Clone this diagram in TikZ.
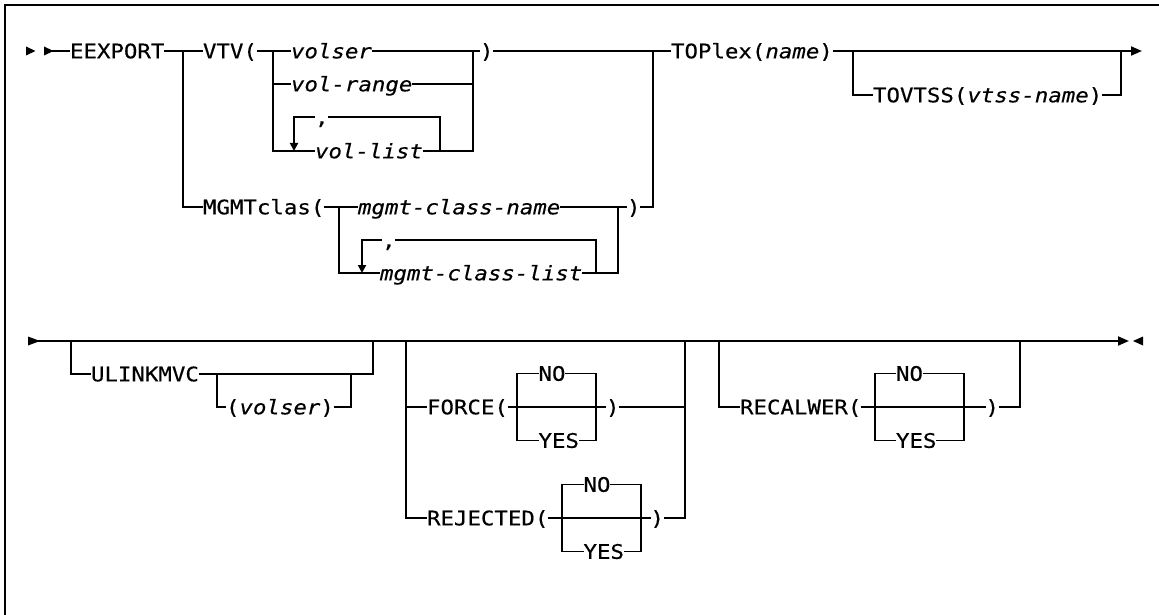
\documentclass[tikz,border=0pt]{standalone}
\usepackage{fontspec}
\newfontfamily\railfont[FakeStretch=1.12,FakeBold=0.4]{DejaVu Sans Mono}
\usetikzlibrary{arrows.meta}
\tikzset{
  kw/.style={inner sep=0pt, outer sep=0pt, anchor=west, text height=14.6pt, text depth=0pt},
  var/.style={kw, font=\railfont\fontsize{20}{24}\selectfont\itshape},
  endtip/.style={-{Triangle[length=11pt,width=9pt]}},
  looptip/.style={-{Triangle[length=8pt,width=8pt]}},
}
\begin{document}
\begin{tikzpicture}[x=1pt, y=-1pt, line width=1.9pt, every node/.style={font=\railfont\fontsize{20}{24}\selectfont}]
  \useasboundingbox (0,0) rectangle (1159,615);
  \draw[line width=2pt] (4.5,615) -- (4.5,5) -- (1160,5);

  % first line
  \fill (26,46.5) -- (35.5,51) -- (26,55.5) -- cycle;
  \fill (44,46.5) -- (53.5,51) -- (44,55.5) -- cycle;
  \coordinate (go1) at (44,51);
  \coordinate (end1) at (1142,51);
  \node[kw] (eexport) at (70,51) {EEXPORT};
  \node[kw] (vtv) at (203,51) {VTV(};
  \node[var] (volser) at (291,51) {volser};
  \node[var] (volrange) at (291,84) {vol-range};
  \node[kw] (comma1) at (315,117) {,};
  \node[var] (vollist) at (315,151) {vol-list};
  \node[kw] (rpvtv) at (480,51) {)};
  \node[kw] (mgmt) at (203,207) {MGMTclas(};
  \node[var] (mcname) at (358,207) {mgmt-class-name};
  \node[kw] (comma2) at (382,240) {,};
  \node[var] (mclist) at (380,273) {mgmt-class-list};
  \node[kw] (rpmgmt) at (627,207) {)};
  \node[kw] (toplex) at (671,51) {TOPlex(\textit{name})};
  \node[kw] (tovtss) at (873,95) {TOVTSS(\textit{vtss-name})};

  \draw (go1) -- (eexport.west);
  \draw (eexport.east) -- (vtv.west);
  \draw (vtv.east) -- (volser.west);
  \draw (volser.east) -- (rpvtv.west);
  \draw (rpvtv.east) -- (toplex.west);
  \draw[endtip] (toplex.east) -- (end1);

  \coordinate (vtvin) at (273,51);
  \coordinate (vtvout) at (473,51);
  \draw (vtvin) |- (volrange.west);
  \draw (vtvin) |- (vollist.west);
  \draw (volrange.east) -| (vtvout);
  \draw (vollist.east) -| (vtvout);
  \coordinate (rep1a) at (294,117);
  \coordinate (rep1b) at (440,117);
  \draw[looptip] (comma1.west) -- (rep1a) -- (rep1a |- vollist.west);
  \draw (comma1.east) -- (rep1b) -- (rep1b |- vollist.east);

  \coordinate (vtvsplit) at (183,51);
  \coordinate (topin) at (653,51);
  \draw (vtvsplit) |- (mgmt.west);
  \draw (mgmt.east) -- (mcname.west);
  \draw (mcname.east) -- (rpmgmt.west);
  \draw (rpmgmt.east) -| (topin);
  \coordinate (mgin) at (339,207);
  \coordinate (mgout) at (618,207);
  \draw (mgin) |- (mclist.west);
  \draw (mclist.east) -| (mgout);
  \coordinate (rep2a) at (362,240);
  \coordinate (rep2b) at (596,240);
  \draw[looptip] (comma2.west) -- (rep2a) -- (rep2a |- mclist.west);
  \draw (comma2.east) -- (rep2b) -- (rep2b |- mclist.east);

  \coordinate (tvin) at (853,51);
  \coordinate (tvout) at (1121,51);
  \draw (tvin) |- (tovtss.west);
  \draw (tovtss.east) -| (tvout);

  % second line
  \fill (28,336.5) -- (40,341) -- (28,345.5) -- cycle;
  \fill (1143,336.5) -- (1133,341) -- (1143,345.5) -- cycle;
  \coordinate (go2) at (28,341);
  \coordinate (end2) at (1129,341);
  \draw[endtip] (go2) -- (end2);

  \node[kw] (ulink) at (91,374) {ULINKMVC};
  \node[kw] (ulvol) at (226,407) {(\textit{volser})};
  \coordinate (ulin) at (71,341);
  \coordinate (ulout) at (373,341);
  \draw (ulin) |- (ulink.west);
  \draw (ulink.east) -| (ulout);
  \coordinate (uvin) at (217,374);
  \coordinate (uvout) at (351,374);
  \draw (uvin) |- (ulvol.west);
  \draw (ulvol.east) -| (uvout);

  \foreach \id/\word/\x/\y/\bl/\br/\nx/\px in {force/FORCE(/427/407/517/596/538.5/606,rej/REJECTED(/427/518/562/641/583.5/650.5,recal/RECALWER(/740/407/875/964/896/985.5} {
    \node[kw] (\id) at (\x,\y) {\word};
    \node[kw] (\id-no) at (\nx,\y-33.5) {NO};
    \node[kw] (\id-yes) at (\nx,\y+33.5) {YES};
    \node[kw] (\id-rp) at (\px,\y) {)};
    \draw (\id.east) -- (\id-rp.west);
    \draw (\id-no.west) -- (\bl,\y-33.5) -- (\bl,\y+33.5) -- (\id-yes.west);
    \draw (\id-no.east) -- (\br,\y-33.5) -- (\br,\y+33.5) -- (\id-yes.east);
  }

  \coordinate (fin) at (406,341);
  \coordinate (fout) at (685,341);
  \draw (fin) |- (rej.west);
  \draw (fin |- force.west) -- (force.west);
  \draw (rej-rp.east) -| (fout);
  \draw (force-rp.east) -- (force-rp.east -| fout);
  \coordinate (win) at (719,341);
  \coordinate (wout) at (1020,341);
  \draw (win) |- (recal.west);
  \draw (recal-rp.east) -| (wout);
\end{tikzpicture}
\end{document}
